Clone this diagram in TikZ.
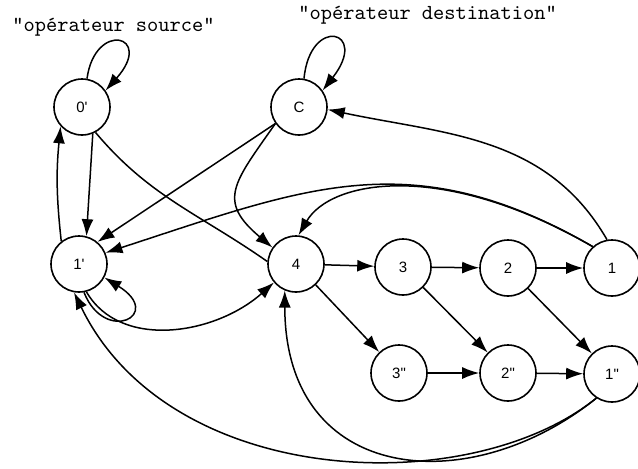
\documentclass[tikz,border=0pt]{standalone}
\usepackage{fontspec}
\setsansfont{Liberation Sans}
\usetikzlibrary{arrows.meta}

\begin{document}
\begin{tikzpicture}[x=0.5pt,y=0.5pt,
		etat/.style={draw,circle,line width=0.8pt,minimum size=28pt,inner sep=0pt,font=\sffamily\fontsize{7.5}{9}\selectfont},
		fleche/.style={line width=0.75pt,-{Latex[length=8.5pt,width=6pt]}},
		titre/.style={anchor=west,inner sep=0pt,font=\fontsize{10.7}{12}\selectfont}]
					\useasboundingbox (0,0) rectangle (638,-468);
					\node[titre] at (12,-27)  (tsrc) {\texttt{"opérateur source"}};
					\node[titre] at (298,-15) (tdst) {\texttt{"opérateur destination"}};
					\node[etat] at (82,-107)  (n0p) {0\textquotesingle};
					\node[etat] at (299,-107) (nc)  {C};
					\node[etat] at (79,-264)  (n1p) {1\textquotesingle};
					\node[etat] at (296,-264) (n4)  {4};
					\node[etat] at (403,-267) (n3)  {3};
					\node[etat] at (508,-268) (n2)  {2};
					\node[etat] at (612,-268) (n1)  {1};
					\node[etat] at (399,-373) (n3s) {3\textquotedbl};
					\node[etat] at (508,-373) (n2s) {2\textquotedbl};
					\node[etat] at (612,-374) (n1s) {1\textquotedbl};
					% boucles
					\draw[fleche] (n0p.80) .. controls (95,-20) and (155,-35) .. (n0p.35);
					\draw[fleche] (nc.80) .. controls (310,-15) and (370,-30) .. (nc.35);
					\draw[fleche] (n1p.-80) .. controls (105,-345) and (165,-315) .. (n1p.-28);
					% source
					\draw[fleche] (n0p.-68) -- (n1p.75);
					\draw[fleche] (n1p.128) to[bend left=6] (n0p.222);
					\draw[line width=0.75pt] (n0p.-62) to[out=-50,in=145] (n4.175);
					\draw[fleche] (n1p.-75) .. controls (120,-350) and (215,-335) .. (n4.220);
					% destination
					\draw[fleche] (nc.215) -- (n1p.50);
					\draw[fleche] (nc.215) to[out=235,in=140,looseness=1.5] (n4.145);
					\draw[fleche] (n1.100) to[out=120,in=-12] (nc.-5);
					\draw[fleche] (n1.132) to[out=150,in=18,looseness=1.1] (n1p.23);
					\draw[fleche] (n1.132) to[out=150,in=60,out looseness=1.52,in looseness=0.55] (n4.85);
					\draw[fleche] (n1s.237) .. controls (470,-500) and (170,-490) .. (n1p.-100);
					\draw[fleche] (n1s.237) .. controls (470,-500) and (285,-485) .. (n4.-113);
					% chaines
					\draw[fleche] (n4) -- (n3);
					\draw[fleche] (n3) -- (n2);
					\draw[fleche] (n2) -- (n1);
					\draw[fleche] (n4) -- (n3s);
					\draw[fleche] (n3) -- (n2s);
					\draw[fleche] (n2) -- (n1s);
					\draw[fleche] (n3s) -- (n2s);
					\draw[fleche] (n2s) -- (n1s);
				\end{tikzpicture}
\end{document}
